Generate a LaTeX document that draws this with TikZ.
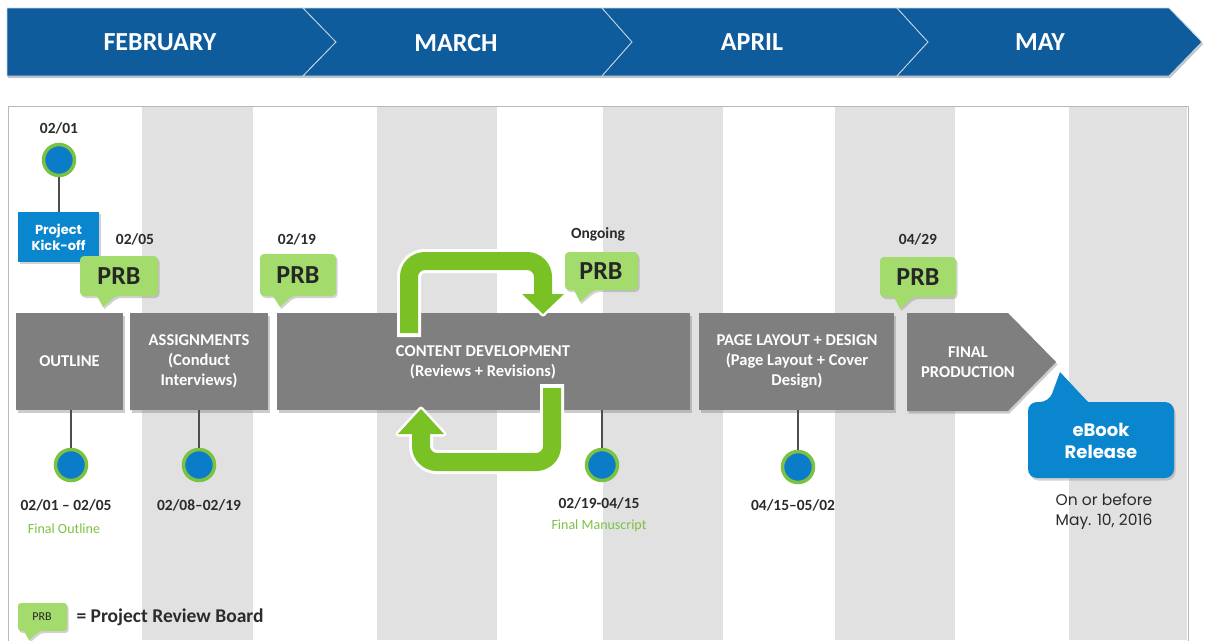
\documentclass[tikz,border=0pt]{standalone}
\usepackage{fontspec}
\setmainfont{Carlito}
\newfontfamily\geofont{Poppins}
\usetikzlibrary{shadows}

\definecolor{bannerblue}{HTML}{0F5C9C}
\definecolor{stripe}{HTML}{E1E1E1}
\definecolor{panelline}{HTML}{B8B8B8}
\definecolor{taskgray}{HTML}{7F7F7F}
\definecolor{prbgreen}{HTML}{A3DB6C}
\definecolor{loopgreen}{HTML}{79C124}
\definecolor{ringgreen}{HTML}{7CC242}
\definecolor{dotblue}{HTML}{0A7CC8}
\definecolor{kickblue}{HTML}{0A86CF}
\definecolor{datetext}{HTML}{2B2B2B}
\definecolor{stemgray}{HTML}{4D4D4D}

\tikzset{
  monthseg/.style={fill=bannerblue, draw=white!75!bannerblue, line width=0.8pt, line join=miter,
    drop shadow={opacity=0.45, shadow xshift=1.2pt, shadow yshift=-2pt}},
  monthlabel/.style={font=\fontsize{26}{30}\selectfont\bfseries, text=white},
  taskbox/.style={fill=taskgray, inner sep=0pt,
    drop shadow={opacity=0.4, shadow xshift=1.5pt, shadow yshift=-2.5pt}},
  tasktext/.style={font=\fontsize{16.5}{20}\selectfont\bfseries, text=white, align=center},
  datelabel/.style={font=\fontsize{15.5}{18}\selectfont\bfseries, text=datetext, align=center},
  notelabel/.style={font=\fontsize{14}{16}\selectfont, text=ringgreen},
  dot/.style={circle, minimum size=31pt, inner sep=0pt, fill=dotblue, draw=ringgreen, line width=3.5pt},
  stemline/.style={draw=stemgray, line width=2.5pt},
  callout/.style={fill=prbgreen, drop shadow={opacity=0.35, shadow xshift=1.5pt, shadow yshift=-2pt}},
  prbtext/.style={font=\fontsize{26}{30}\selectfont\bfseries, text=black!85},
  loopedge/.style={draw=white, line width=24pt, rounded corners=16pt},
  loopband/.style={draw=loopgreen, line width=18pt, rounded corners=16pt},
}

\begin{document}
\begin{tikzpicture}[x=1pt,y=-1pt]
\useasboundingbox (0,0) rectangle (1206,640);
\fill[white] (0,0) rectangle (1206,640);

% month banner
\path[monthseg] (7,8) -- (303,8) -- (336,42) -- (303,76) -- (7,76) -- cycle;
\path[monthseg] (303,8) -- (602,8) -- (632,42) -- (602,76) -- (303,76) -- (336,42) -- cycle;
\path[monthseg] (602,8) -- (897,8) -- (928,42) -- (897,76) -- (602,76) -- (632,42) -- cycle;
\path[monthseg] (897,8) -- (1169,8) -- (1202,42) -- (1169,76) -- (897,76) -- (928,42) -- cycle;
\node[monthlabel] (feb) at (160,42) {FEBRUARY};
\node[monthlabel] (mar) at (456,43) {MARCH};
\node[monthlabel] (apr) at (752,42) {APRIL};
\node[monthlabel] (may) at (1040,42) {MAY};

% striped panel
\foreach \a/\b in {142/253, 377/497, 603/723, 835/955, 1069/1187}
  \fill[stripe] (\a,107) rectangle (\b,640);
\draw[panelline, line width=1pt] (8,641) -- (8,106) -- (1188,106) -- (1188,641);

% kick-off milestone
\node[datelabel] (d0lab) at (59,128) {02/01};
\node[fill=kickblue, minimum width=81pt, minimum height=50pt, inner sep=0pt,
  drop shadow={opacity=0.35, shadow xshift=1.5pt, shadow yshift=-2pt},
  font=\geofont\fontsize{13}{16}\selectfont\bfseries, text=white, align=center]
  (kick) at (58.5,237) {Project\\Kick-off};
\node[dot] (d0) at (59,160) {};
\draw[stemline] (d0.south) -- (d0.south |- kick.north);

% PRB callouts
\path[callout] [rounded corners=4pt] (80,256) -- (158,256) -- (158,296) -- (116,296)
  [sharp corners] -- (103,307) -- (97,296) [rounded corners=4pt] -- (80,296) -- cycle;
\path[callout] [rounded corners=4pt] (260,254) -- (336,254) -- (336,296) -- (292,296)
  [sharp corners] -- (280,307) -- (273,296) [rounded corners=4pt] -- (260,296) -- cycle;
\path[callout] [rounded corners=4pt] (565,252) -- (638,252) -- (638,290) -- (594,290)
  [sharp corners] -- (580,302) -- (574,290) [rounded corners=4pt] -- (565,290) -- cycle;
\path[callout] [rounded corners=4pt] (880,257) -- (956,257) -- (956,297) -- (913,297)
  [sharp corners] -- (900,309) -- (894,297) [rounded corners=4pt] -- (880,297) -- cycle;
\node[prbtext] (prb1) at (119,276) {PRB};
\node[prbtext] (prb2) at (298,275) {PRB};
\node[prbtext] (prb3) at (601,271) {PRB};
\node[prbtext] (prb4) at (918,277) {PRB};
\node[datelabel] (prb1lab) at (135,239) {02/05};
\node[datelabel] (prb2lab) at (297,239) {02/19};
\node[datelabel] (prb3lab) at (598,234) {Ongoing};
\node[datelabel] (prb4lab) at (918,239) {04/29};

% task boxes
\node[taskbox, minimum width=107pt, minimum height=97pt] (outline) at (69.5,361.5) {};
\node[taskbox, minimum width=138pt, minimum height=97pt] (assign) at (199,361.5) {};
\node[taskbox, minimum width=413pt, minimum height=97pt] (content) at (483.5,361.5) {};
\node[taskbox, minimum width=195pt, minimum height=97pt] (layout) at (796.5,361.5) {};
\path[taskbox] (907,313) -- (1008,313) -- (1056,362) -- (1008,411) -- (907,411) -- cycle;

\node[tasktext] (outlinetxt) at (outline) {OUTLINE};
\node[tasktext] (assigntxt) at (199,361) {ASSIGNMENTS\\(Conduct\\Interviews)};
\node[tasktext] (contenttxt) at (483,362) {CONTENT DEVELOPMENT\\(Reviews + Revisions)};
\node[tasktext] (layouttxt) at (797,361) {PAGE LAYOUT + DESIGN\\(Page Layout + Cover\\Design)};
\node[tasktext] (final) at (968,362) {FINAL\\PRODUCTION};

% review loop arrows
\draw[loopedge] (409,337) |- (543,261) -- (543,296);
\draw[white, line width=5pt, line join=round, fill=loopgreen] (522,294) -- (564,294) -- (543,314) -- cycle;
\draw[loopband] (409,333) |- (543,261) -- (543,297);
\fill[loopgreen] (522,294) -- (564,294) -- (543,314) -- cycle;

\draw[loopedge] (552,384) |- (421,462) -- (421,432);
\draw[white, line width=5pt, line join=round, fill=loopgreen] (398,434) -- (444,434) -- (421,409) -- cycle;
\draw[loopband] (552,388) |- (421,462) -- (421,433);
\fill[loopgreen] (398,434) -- (444,434) -- (421,409) -- cycle;

% deliverable milestones
\node[dot] (d1) at (71,465) {};
\node[dot] (d2) at (199,465) {};
\node[dot] (d3) at (602,465) {};
\node[dot] (d4) at (798,467) {};
\draw[stemline] (outline.south -| d1) -- (d1);
\draw[stemline] (assign.south -| d2) -- (d2);
\draw[stemline] (content.south -| d3) -- (d3);
\draw[stemline] (layout.south -| d4) -- (d4);
\node[datelabel] (d1lab) at (66,505) {02/01 -- 02/05};
\node[notelabel] (d1note) at (64,529) {Final Outline};
\node[datelabel] (d2lab) at (199,505) {02/08--02/19};
\node[datelabel] (d3lab) at (599,503) {02/19-04/15};
\node[notelabel] (d3note) at (599,526) {Final Manuscript};
\node[datelabel] (d4lab) at (793,505) {04/15--05/02};

% release callout
\path[fill=kickblue, drop shadow={opacity=0.35, shadow xshift=1.5pt, shadow yshift=-2.5pt}]
  [rounded corners=9pt] (1028,402) -- (1049,402) [sharp corners] -- (1060,372) -- (1088,402)
  [rounded corners=9pt] -- (1174,402) -- (1174,478) -- (1028,478) -- cycle;
\node[font=\geofont\fontsize{18}{22}\selectfont\bfseries, text=white, align=center]
  (ebook) at (1101,441) {eBook\\Release};
\node[font=\geofont\fontsize{15.5}{20}\selectfont, text=datetext, align=center]
  (release) at (1104,512) {On or before\\May. 10, 2016};

% legend
\path[callout] [rounded corners=3pt] (18,603) -- (67,603) -- (67,631) -- (40,631)
  [sharp corners] -- (29,640) -- (24,631) [rounded corners=3pt] -- (18,631) -- cycle;
\node[font=\fontsize{12}{14}\selectfont, text=black!85] (legprb) at (42,617) {PRB};
\node[font=\fontsize{19.5}{22}\selectfont\bfseries, text=datetext, anchor=west]
  (legend) at (73,617) {= Project Review Board};
\end{tikzpicture}
\end{document}
